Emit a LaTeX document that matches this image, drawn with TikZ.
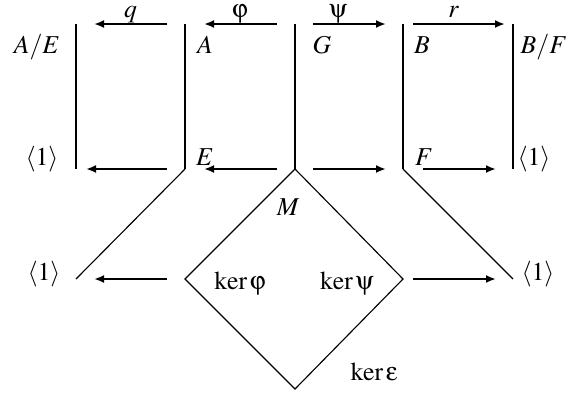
\documentclass[tikz,border=0pt]{standalone}
\usepackage{amsmath}
\usepackage{mathptmx}
\usepackage[Symbol]{upgreek}
\usepackage{tikz}
\usetikzlibrary{arrows.meta}

\begin{document}
\begin{tikzpicture}[x=0.4pt,y=-0.4pt,font=\fontsize{10.3}{12.4}\selectfont,
	bar/.style={line width=0.8pt},
	side/.style={line width=0.45pt},
	map/.style={line width=0.8pt,-{Latex[length=4pt,width=3.2pt]}},
	lab/.style={anchor=base,inner sep=0pt},
	maplab/.style={anchor=base,inner sep=0pt,yshift=2.6pt}]
	\useasboundingbox (0,0) rectangle (568,396);
	% corners of the lattice
	\foreach \n/\x in {1/76,2/185,3/295,4/403,5/513}{
		\coordinate (t\n) at (\x,24);
		\coordinate (b\n) at (\x,169);
	}
	\coordinate (l1) at (76,279);
	\coordinate (kphi) at (185,279);
	\coordinate (kpsi) at (403,279);
	\coordinate (r1) at (513,279);
	\coordinate (keps) at (295,389);
	% vertical lines
	\foreach \n in {1,...,5}
		\draw[bar] (t\n) -- (b\n);
	% thin lines
	\draw[side] (b2) -- (l1);
	\draw[side] (b4) -- (r1);
	\draw[side] (b3) -- (kphi) -- (keps) -- (kpsi) -- cycle;
	% maps, top row
	\draw[map,shorten <=7.2pt,shorten >=7.2pt] (t2) -- node[maplab,pos=.5]{$q$} (t1);
	\draw[map,shorten <=7.2pt,shorten >=7.6pt] (t3) -- node[maplab,pos=.5]{$\upvarphi$} (t2);
	\draw[map,shorten <=7.2pt,shorten >=6.8pt] (t3) -- node[maplab,pos=.4]{$\uppsi$} (t4);
	\draw[map,shorten <=4pt,shorten >=3.2pt] (t4) -- node[maplab,pos=.46]{$r$} (t5);
	% maps, bottom row
	\draw[map,shorten <=7.2pt,shorten >=4pt] (b2) -- (b1);
	\draw[map,shorten <=7.2pt,shorten >=7.6pt] (b3) -- (b2);
	\draw[map,shorten <=7.2pt,shorten >=6.8pt] (b3) -- (b4);
	\draw[map,shorten <=8pt,shorten >=6.8pt] (b4) -- (b5);
	% maps, middle row
	\draw[map,shorten <=7.2pt,shorten >=7.2pt] (kphi) -- (l1);
	\draw[map,shorten <=4pt,shorten >=6.8pt] (kpsi) -- (r1);
	% groups
	\node[lab] (AE) at (37,53) {$A/E$};
	\node[lab] (A) at (205,53) {$A$};
	\node[lab] (G) at (322,53) {$G$};
	\node[lab] (B) at (422,53) {$B$};
	\node[lab] (BF) at (544,53) {$B/F$};
	\node[lab] (one1) at (42,165) {$\langle 1\rangle$};
	\node[lab] (E) at (205,165) {$E$};
	\node[lab] (F) at (424,165) {$F$};
	\node[lab] (one2) at (534,165) {$\langle 1\rangle$};
	\node[lab] (M) at (288,215) {$M$};
	\node[lab] (one3) at (44,280) {$\langle 1\rangle$};
	\node[lab] (Kphi) at (240,289) {$\ker\upvarphi$};
	\node[lab] (Kpsi) at (347,289) {$\ker\uppsi$};
	\node[lab] (one4) at (538,280) {$\langle 1\rangle$};
	\node[lab] (Keps) at (374,380) {$\ker\upvarepsilon$};
\end{tikzpicture}
\end{document}
